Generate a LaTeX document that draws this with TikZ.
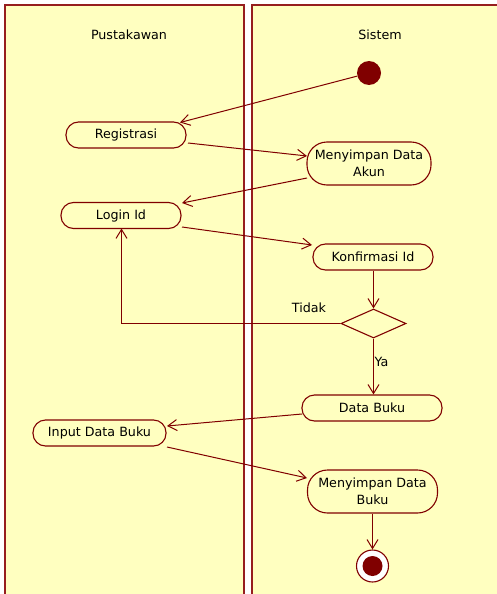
\documentclass[tikz,border=0pt]{standalone}
\usepackage{fontspec}
\setmainfont{DejaVu Sans}
\usetikzlibrary{arrows.meta,shapes.geometric}
\definecolor{lanefill}{RGB}{255,255,192}
\definecolor{umlred}{RGB}{128,0,0}
\definecolor{laneline}{RGB}{150,30,30}
\tikzset{
  lane/.style={draw=laneline, line width=1.6pt, fill=lanefill},
  action/.style={draw=umlred, line width=1.1pt, fill=lanefill, rounded corners=12.5pt,
    minimum height=26pt, inner sep=0pt, align=center,
    font=\fontsize{12.7}{16.5}\selectfont},
  flow/.style={draw=umlred, line width=1pt, -{Straight Barb[length=9pt,width=11pt,line width=1pt]}},
  label/.style={font=\fontsize{12.7}{16}\selectfont, inner sep=0pt},
}
\begin{document}
\begin{tikzpicture}[x=1pt,y=-1pt]
\useasboundingbox (0,0) rectangle (497,594);
\clip (0,0) rectangle (497,594);

% swimlanes
\draw[lane] (5,5) rectangle (244,610);
\draw[lane] (252,5) rectangle (510,610);
\node[label] (laneA) at (129,35) {Pustakawan};
\node[label] (laneB) at (380,35) {Sistem};

% initial and final states
\node[circle, fill=umlred, minimum size=24pt, inner sep=0pt] (start) at (369,73) {};
\node[circle, draw=umlred, line width=1.1pt, fill=white, minimum size=32pt, inner sep=0pt] (final) at (372.5,566) {};
\node[circle, fill=umlred, minimum size=20pt, inner sep=0pt] at (final) {};

% actions
\node[action, minimum width=120pt] (reg) at (126,135) {Registrasi};
\node[action, minimum width=124pt, minimum height=43pt, rounded corners=20pt] (akun) at (369,163.5) {Menyimpan Data\\Akun};
\node[action, minimum width=120pt] (login) at (121,215.5) {Login Id};
\node[action, minimum width=120pt] (konf) at (373,257) {Konfirmasi Id};
\node[diamond, draw=umlred, line width=1.1pt, fill=lanefill, minimum width=65pt, minimum height=29pt, inner sep=0pt, aspect=2.2] (dec) at (373.5,323.5) {};
\node[action, minimum width=140pt] (buku) at (372,408) {Data Buku};
\node[action, minimum width=133pt] (input) at (99.5,433) {Input Data Buku};
\node[action, minimum width=130pt, minimum height=43pt, rounded corners=20pt] (simpan) at (372.5,491.5) {Menyimpan Data\\Buku};

% control flows
\draw[flow] (start) -- (180,122.5);
\draw[flow] (188,143) -- (307,156);
\draw[flow] (307,178) -- (182,203);
\draw[flow] (182,227) -- (312,245);
\draw[flow] (dec.north |- konf.south) -- (dec.north);
\draw[flow] (dec.west) -- (121.5,323.5) -- (121.5,228.5);
\draw[flow] (dec.south) -- (dec.south |- buku.north);
\draw[flow] (302,414) -- (167,426);
\draw[flow] (167,447) -- (307,478);
\draw[flow] (simpan.south) -- (final.north);

% guards
\node[label] (tidak) at (309,308) {Tidak};
\node[label] (ya) at (381.5,362) {Ya};
\end{tikzpicture}
\end{document}
